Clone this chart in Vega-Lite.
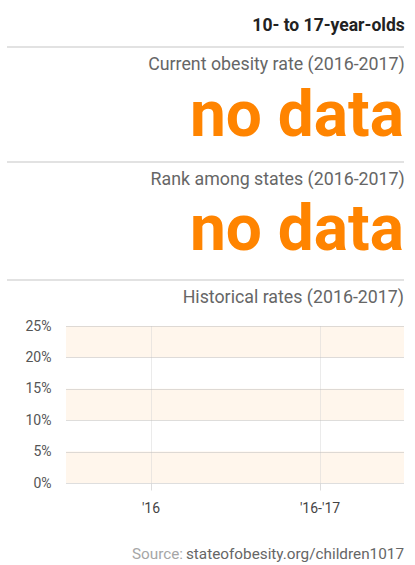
{
  "$schema": "https://vega.github.io/schema/vega-lite/v6.json",
  "background": "white",
  "padding": {"left": 6, "top": 16, "right": 12, "bottom": 0},
  "spacing": 8,
  "config": {
    "font": "Roboto",
    "view": {"stroke": null},
    "title": {"font": "Roboto", "anchor": "end", "baseline": "alphabetic", "fontWeight": "normal", "fontSize": 17.8, "color": "#666666"}
  },
  "vconcat": [
    {
      "width": 338,
      "height": 1,
      "title": {"text": "10- to 17-year-olds", "fontSize": 17.5, "fontWeight": "bold", "color": "#222222", "offset": 12},
      "data": {"values": [{"section": "header"}]},
      "mark": {"type": "rule", "color": "#d9d9d9", "strokeWidth": 1.5},
      "encoding": {"x": {"value": -59}, "x2": {"value": "width"}, "y": {"value": "height"}}
    },
    {
      "width": 338,
      "height": 62,
      "title": {"text": "Current obesity rate (2016-2017)", "offset": 0},
      "data": {"values": [{"value": "no data"}]},
      "layer": [
        {
          "mark": {"type": "text", "align": "right", "baseline": "alphabetic", "fontSize": 64, "fontWeight": "bold", "color": "#ff8400"},
          "encoding": {"text": {"field": "value"}, "x": {"value": "width"}, "y": {"value": "height"}}
        },
        {
          "mark": {"type": "rule", "color": "#d9d9d9", "strokeWidth": 1.5, "yOffset": 26},
          "encoding": {"x": {"value": -59}, "x2": {"value": "width"}, "y": {"value": "height"}}
        }
      ]
    },
    {
      "width": 338,
      "height": 61,
      "title": {"text": "Rank among states (2016-2017)", "offset": 0},
      "data": {"values": [{"value": "no data"}]},
      "layer": [
        {
          "mark": {"type": "text", "align": "right", "baseline": "alphabetic", "fontSize": 64, "fontWeight": "bold", "color": "#ff8400"},
          "encoding": {"text": {"field": "value"}, "x": {"value": "width"}, "y": {"value": "height"}}
        },
        {
          "mark": {"type": "rule", "color": "#d9d9d9", "strokeWidth": 1.5, "yOffset": 30},
          "encoding": {"x": {"value": -59}, "x2": {"value": "width"}, "y": {"value": "height"}}
        }
      ]
    },
    {
      "width": 338,
      "height": 157,
      "title": {"text": "Historical rates (2016-2017)", "offset": 12},
      "layer": [
        {
          "data": {"values": [{"lo": 0, "hi": 0.05}, {"lo": 0.1, "hi": 0.15}, {"lo": 0.2, "hi": 0.25}]},
          "mark": {"type": "rect", "color": "#fff6ec"},
          "encoding": {
            "y": {
              "field": "lo",
              "type": "quantitative",
              "scale": {"domain": [0, 0.25], "nice": false},
              "axis": {
                "title": null,
                "values": [0, 0.05, 0.1, 0.15, 0.2, 0.25],
                "tickCount": 6,
                "format": ".0%",
                "domain": false,
                "ticks": false,
                "labelOverlap": false,
                "labelPadding": 15,
                "labelFontSize": 14,
                "labelColor": "#555555",
                "gridColor": "#bdbdbd",
                "gridDash": [1, 1],
                "minExtent": 59,
                "zindex": 1
              }
            },
            "y2": {"field": "hi"}
          }
        },
        {
          "data": {"values": [{"year": "'16", "rate": null}, {"year": "'16-'17", "rate": null}]},
          "mark": {"type": "line", "color": "#ff8400", "strokeWidth": 3},
          "encoding": {
            "x": {
              "field": "year",
              "type": "ordinal",
              "scale": {"type": "point", "domain": ["'16", "'16-'17"]},
              "axis": {
                "title": null,
                "labelAngle": 0,
                "domain": false,
                "grid": true,
                "gridColor": "#d6d6d6",
                "gridDash": [1, 1],
                "tickSize": 7,
                "tickColor": "#dddddd",
                "labelPadding": 11.5,
                "labelFontSize": 14,
                "labelColor": "#444444",
                "zindex": 1
              }
            },
            "y": {"field": "rate", "type": "quantitative"}
          }
        }
      ]
    },
    {
      "width": 338,
      "height": 35,
      "data": {"values": [{"prefix": "Source:", "source": "stateofobesity.org/children1017"}]},
      "layer": [
        {
          "mark": {"type": "text", "align": "right", "baseline": "alphabetic", "fontSize": 15.3, "color": "#666666"},
          "encoding": {"text": {"field": "source"}, "x": {"value": "width"}, "y": {"value": "height"}}
        },
        {
          "mark": {"type": "text", "align": "right", "baseline": "alphabetic", "fontSize": 15.3, "color": "#a6a6a6", "dx": -221},
          "encoding": {"text": {"field": "prefix"}, "x": {"value": "width"}, "y": {"value": "height"}}
        }
      ]
    }
  ]
}
